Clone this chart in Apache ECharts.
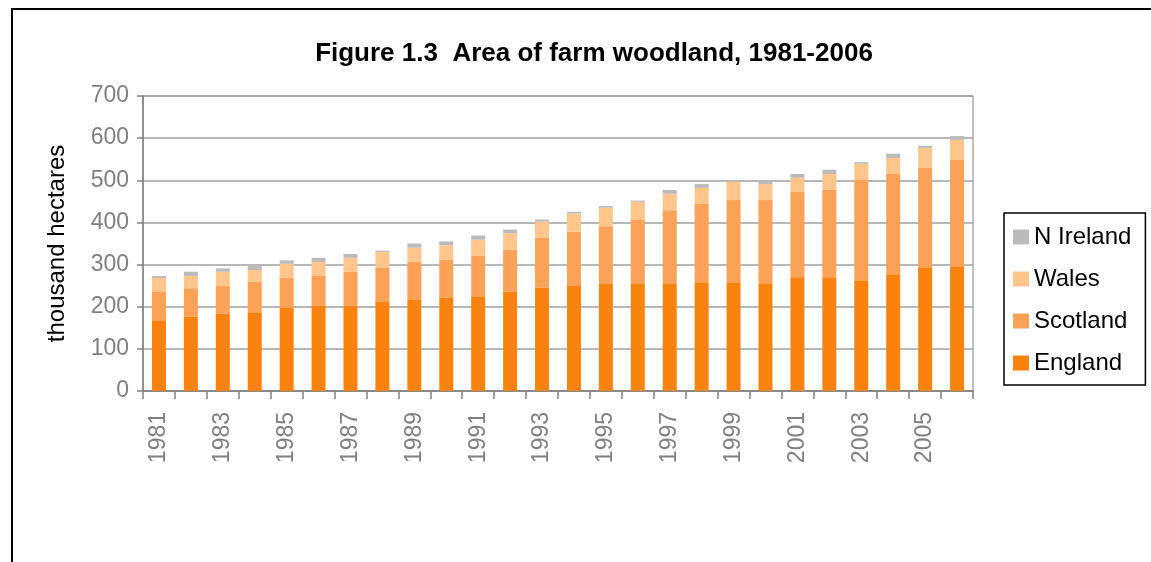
<!DOCTYPE html>
<html>
<head>
<meta charset="utf-8">
<script src="https://cdn.jsdelivr.net/npm/echarts@6/dist/echarts.min.js"></script>
<style>
html,body{margin:0;padding:0;background:#fff;}
#frame{position:absolute;left:11px;top:8px;width:1140px;height:554px;border-left:2px solid #000;border-top:2px solid #000;}
#chart{position:absolute;left:0;top:0;width:1151px;height:562px;}
</style>
</head>
<body>
<div id="frame"></div>
<div id="chart"></div>
<script>
const years = ['1981','1982','1983','1984','1985','1986','1987','1988','1989','1990','1991','1992','1993','1994','1995','1996','1997','1998','1999','2000','2001','2002','2003','2004','2005','2006'];
const england  = [168,177,183,187,197,202,202,211,216,221,225,236,245,249,254,254,254,258,258,254,268,268,263,277,292,296];
const scotland = [67,67,66,72,71,71,81,81,91,91,96,100,119,129,137,152,175,186,195,199,204,210,238,238,237,252];
const wales    = [33,29,34,28,34,33,33,38,33,34,38,38,38,43,44,43,39,38,44,38,34,37,38,38,48,48];
const nireland = [5,10,8,12,8,10,9,3,10,9,10,9,5,4,4,3,9,9,1,7,9,10,4,10,5,9];
const yTicks = [0,100,200,300,400,500,600,700];

const chart = echarts.init(document.getElementById('chart'), null, {renderer:'canvas'});
const font = 'Liberation Sans, Arial, sans-serif';
const barW = 14;
function bar(name, data, color){
  return {name:name, type:'bar', stack:'total', data:data, barWidth:barW,
    itemStyle:{color:color}, emphasis:{disabled:true}};
}
chart.setOption({
  animation:false,
  title:{text:'Figure 1.3  Area of farm woodland, 1981-2006', left:589, top:36, textAlign:'center',
    textStyle:{fontFamily:font, fontWeight:'bold', fontSize:26, color:'#000'}},
  grid:{left:143, top:96, width:830, height:295, show:true, borderColor:'#808080', borderWidth:1},
  legend:{orient:'vertical', left:1004, top:213,
    data:['N Ireland','Wales','Scotland','England'],
    borderColor:'#000', borderWidth:1.5, padding:[12,14,10,9], itemGap:18,
    itemWidth:16, itemHeight:15, icon:'rect',
    textStyle:{fontFamily:font, fontSize:24, lineHeight:24, color:'#000'}},
  xAxis:{type:'category', data:years, boundaryGap:true,
    axisLine:{lineStyle:{color:'#808080', width:1.5}},
    axisTick:{show:true, interval:0, length:8, lineStyle:{color:'#808080', width:1.5}},
    axisLabel:{interval:1, rotate:90, margin:21, fontFamily:font, fontSize:23, color:'#808080'},
    splitLine:{show:false}},
  yAxis:{type:'value', min:0, max:700, interval:100,
    name:'thousand hectares', nameLocation:'middle', nameGap:74, nameRotate:90,
    nameTextStyle:{fontFamily:font, fontSize:24, color:'#000'},
    axisLine:{show:true, lineStyle:{color:'#808080', width:1.5}},
    axisTick:{show:true, length:6, lineStyle:{color:'#808080', width:1.5}},
    axisLabel:{margin:14, fontFamily:font, fontSize:23, color:'#808080',
      formatter:function(v){return yTicks.indexOf(v)>=0 ? String(v) : '';}},
    splitLine:{show:true, lineStyle:{color:'#a0a0a0', width:1.5}}},
  series:[
    bar('England', england, '#fa830f'),
    bar('Scotland', scotland, '#fca256'),
    bar('Wales', wales, '#ffc58b'),
    bar('N Ireland', nireland, '#bbbbbb')
  ]
});
</script>
</body>
</html>
